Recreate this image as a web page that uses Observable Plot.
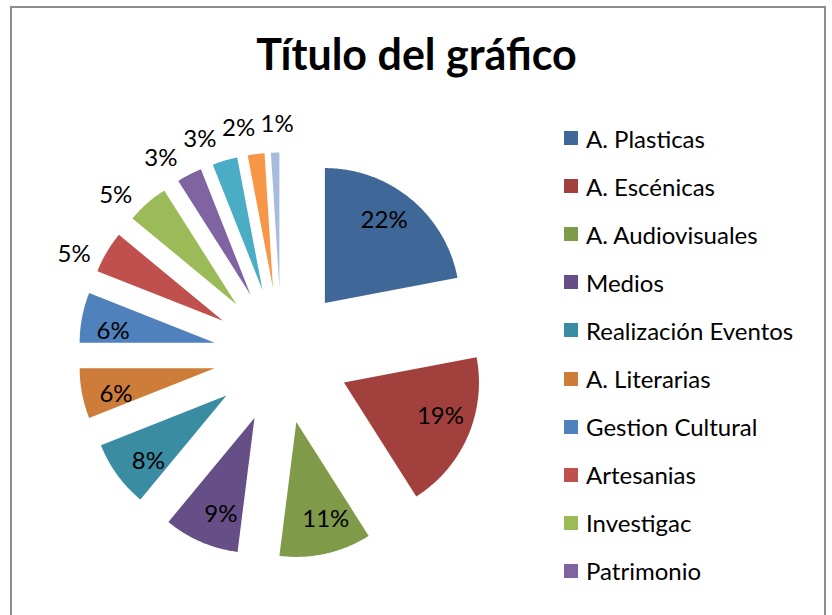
<!DOCTYPE html>
<html>
<head>
<meta charset="utf-8">
<script src="https://cdn.jsdelivr.net/npm/d3@7"></script>
<script src="https://cdn.jsdelivr.net/npm/@observablehq/plot@0.6"></script>
<style>
  body { margin: 0; background: #fff; }
  #wrap { position: relative; width: 832px; height: 615px; overflow: hidden; font-family: Lato, "Open Sans", sans-serif; }
  #frame { position: absolute; left: 10px; top: 6px; width: 816px; height: 660px; border: 2px solid #8d8d8d; box-sizing: border-box; }
  #chart { position: absolute; left: 0; top: 0; }
  #legend { position: absolute; left: 564px; top: 114px; }
  .row { height: 48.1px; display: flex; align-items: center; font-size: 24px; color: #000; white-space: nowrap; }
  .sw { width: 14px; height: 14px; margin-right: 8px; flex: none; }
</style>
</head>
<body>
<div id="wrap">
  <div id="frame"></div>
  <div id="chart"></div>
  <div id="legend"></div>
</div>
<script>
// ---- data ----
const title = "Título del gráfico";
const categories = [
  "A. Plasticas", "A. Escénicas", "A. Audiovisuales", "Medios",
  "Realización Eventos", "A. Literarias", "Gestion Cultural", "Artesanias",
  "Investigac", "Patrimonio", "Categoría 11", "Categoría 12", "Categoría 13"
];
const values = [22, 19, 11, 9, 8, 6, 6, 5, 5, 3, 3, 2, 1];
const colors = [
  "#3F6798", "#A2403E", "#7F9A48", "#664E86", "#3A8CA3", "#CD7C3A",
  "#4F81BD", "#C0504D", "#9BBB59", "#8064A2", "#4BACC6", "#F79646", "#A8BBDC"
];
const legendCount = 10; // entries visible in the (truncated) legend

// ---- layout ----
const W = 832, H = 615;
const CX = 281, CY = 355, R = 135;   // pie centre and radius (px)
const explode = 0.504;               // explosion, as a fraction of radius
const labelFont = 24;

const rows = categories.map((name, i) => ({name, value: values[i]}));
const arcs = d3.pie().sort(null).value(d => d.value)(rows);

// slice outlines (unit circle, y up, angle clockwise from 12 o'clock)
const pts = [];
const labels = [];
const deg = Math.PI / 180;
const boxW = 38 / R, boxH = 20 / R; // approximate label box (with gap), in radius units
let prevOutside = null;
arcs.forEach(a => {
  const mid = (a.startAngle + a.endAngle) / 2;
  const ox = explode * Math.sin(mid), oy = explode * Math.cos(mid);
  pts.push({name: a.data.name, x: ox, y: oy});
  const n = Math.max(4, Math.ceil((a.endAngle - a.startAngle) / 0.01));
  for (let k = 0; k <= n; k++) {
    const t = a.startAngle + (a.endAngle - a.startAngle) * k / n;
    pts.push({name: a.data.name, x: ox + Math.sin(t), y: oy + Math.cos(t)});
  }
  const inside = a.data.value >= 6;
  let lr, la;
  if (inside) { lr = 1.26; la = mid - 2.5 * deg; }
  else {
    lr = 1.71; la = mid - 4.5 * deg;
    // push clockwise while overlapping the previous outside label
    if (prevOutside) {
      while (Math.abs(lr * Math.sin(la) - prevOutside.x) < boxW &&
             Math.abs(lr * Math.cos(la) - prevOutside.y) < boxH) la += 0.2 * deg;
    }
  }
  const lab = {x: lr * Math.sin(la), y: lr * Math.cos(la), text: a.data.value + "%"};
  if (!inside) prevOutside = lab;
  labels.push(lab);
});

const chart = Plot.plot({
  width: W, height: H,
  margin: 0,
  style: {fontFamily: "Lato, 'Open Sans', sans-serif", background: "transparent", overflow: "visible"},
  x: {domain: [-1, 1], range: [CX - R, CX + R], axis: null},
  y: {domain: [-1, 1], range: [CY + R, CY - R], axis: null},
  color: {domain: categories, range: colors},
  marks: [
    Plot.line(pts, {x: "x", y: "y", z: "name", fill: "name", stroke: null, curve: "linear-closed"}),
    Plot.text(labels, {x: "x", y: "y", text: "text", fontSize: labelFont, fill: "#000"}),
    Plot.text([title], {frameAnchor: "top", lineAnchor: "middle", dy: 56, text: d => d, fontSize: 43, fontWeight: "bold", fill: "#000"})
  ]
});
document.getElementById("chart").appendChild(chart);

// legend
const leg = document.getElementById("legend");
categories.slice(0, legendCount).forEach((name, i) => {
  const r = document.createElement("div");
  r.className = "row";
  const sw = document.createElement("span");
  sw.className = "sw";
  sw.style.background = colors[i];
  const t = document.createElement("span");
  t.textContent = name;
  r.appendChild(sw); r.appendChild(t);
  leg.appendChild(r);
});
</script>
</body>
</html>
